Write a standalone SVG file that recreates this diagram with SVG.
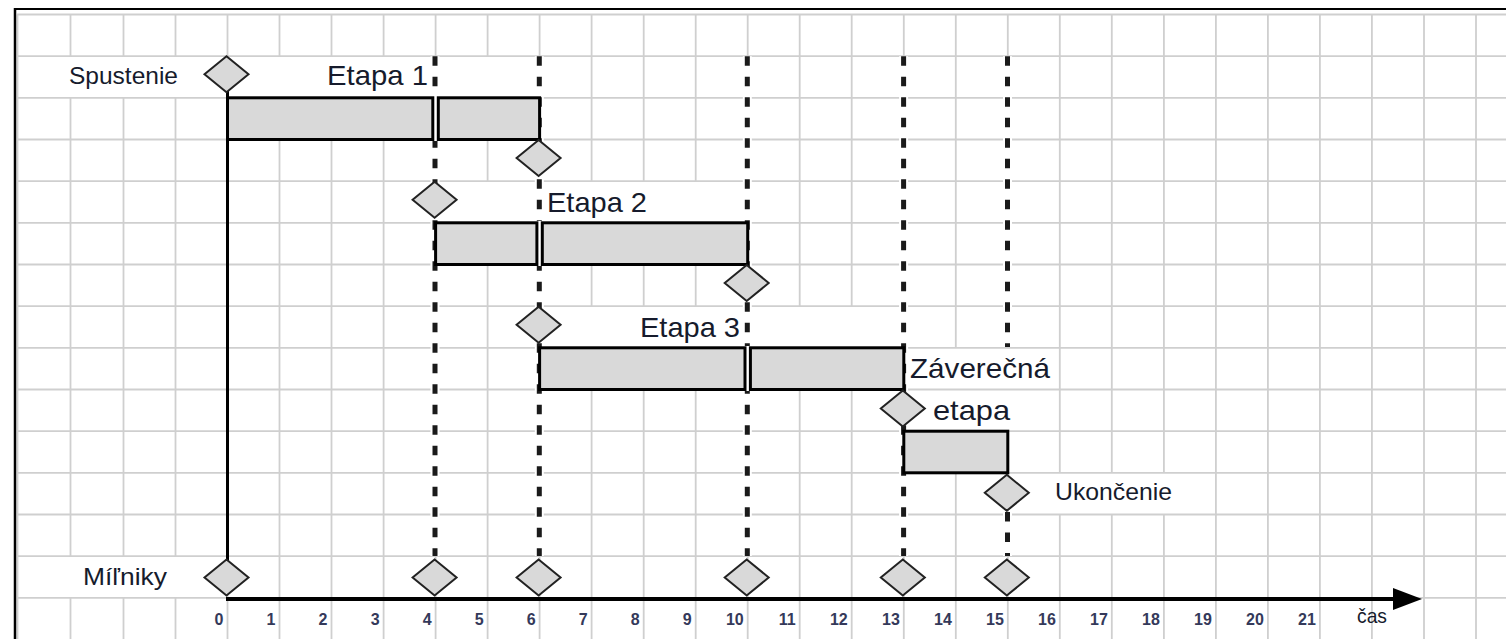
<svg xmlns="http://www.w3.org/2000/svg" xmlns:xlink="http://www.w3.org/1999/xlink" width="1506" height="639" viewBox="0 0 1506 639">
<style>
.grid line{stroke:#cfcfcf;stroke-width:1.8}
.bar{fill:#d9d9d9;stroke:#000;stroke-width:3}
.gap{fill:#fff}
.dia{fill:#d9d9d9;stroke:#222;stroke-width:2;stroke-linejoin:miter}
.under{stroke:#fff;stroke-width:9}
.dash{stroke:#1a1a1a;stroke-width:5;stroke-dasharray:9.5 11}
.lbl{font-family:"Liberation Sans",Arial,sans-serif;fill:#161b2c}
.big{font-size:28px}
.small{font-size:24.5px}
.num{font-family:"Liberation Sans",Arial,sans-serif;font-size:16px;font-weight:bold;fill:#34395a;text-anchor:end}
</style>
<defs>
<path id="diamond" class="dia" d="M0,-18 L22,0 L0,18 L-22,0 Z"/>
<marker id="arrow" viewBox="0 0 30 22" refX="1" refY="11" markerWidth="30" markerHeight="22" markerUnits="userSpaceOnUse" orient="auto">
<path d="M0,0 L29,11 L0,22 Z" fill="#000"/>
</marker>
</defs>
<rect x="0" y="0" width="1506" height="639" fill="#fff"/>
<g id="grid" class="grid">
<line x1="17" y1="14.5" x2="1506" y2="14.5"/>
<line x1="17" y1="56.2" x2="1506" y2="56.2"/>
<line x1="17" y1="97.8" x2="1506" y2="97.8"/>
<line x1="17" y1="139.5" x2="1506" y2="139.5"/>
<line x1="17" y1="181.2" x2="1506" y2="181.2"/>
<line x1="17" y1="222.8" x2="1506" y2="222.8"/>
<line x1="17" y1="264.5" x2="1506" y2="264.5"/>
<line x1="17" y1="306.2" x2="1506" y2="306.2"/>
<line x1="17" y1="347.8" x2="1506" y2="347.8"/>
<line x1="17" y1="389.5" x2="1506" y2="389.5"/>
<line x1="17" y1="431.2" x2="1506" y2="431.2"/>
<line x1="17" y1="472.8" x2="1506" y2="472.8"/>
<line x1="17" y1="514.5" x2="1506" y2="514.5"/>
<line x1="17" y1="556.2" x2="1506" y2="556.2"/>
<line x1="17" y1="597.8" x2="1506" y2="597.8"/>
<line x1="17.5" y1="14.5" x2="17.5" y2="639"/>
<line x1="70.5" y1="14.5" x2="70.5" y2="56.2"/><line x1="70.5" y1="97.8" x2="70.5" y2="556.2"/><line x1="70.5" y1="597.8" x2="70.5" y2="639"/>
<line x1="123.5" y1="14.5" x2="123.5" y2="56.2"/><line x1="123.5" y1="97.8" x2="123.5" y2="556.2"/><line x1="123.5" y1="597.8" x2="123.5" y2="639"/>
<line x1="175.5" y1="14.5" x2="175.5" y2="56.2"/><line x1="175.5" y1="97.8" x2="175.5" y2="556.2"/><line x1="175.5" y1="597.8" x2="175.5" y2="639"/>
<line x1="227.5" y1="14.5" x2="227.5" y2="639"/>
<line x1="279.5" y1="14.5" x2="279.5" y2="56.2"/><line x1="279.5" y1="97.8" x2="279.5" y2="639"/>
<line x1="331.5" y1="14.5" x2="331.5" y2="56.2"/><line x1="331.5" y1="97.8" x2="331.5" y2="639"/>
<line x1="383.6" y1="14.5" x2="383.6" y2="56.2"/><line x1="383.6" y1="97.8" x2="383.6" y2="639"/>
<line x1="435.6" y1="14.5" x2="435.6" y2="639"/>
<line x1="487.6" y1="14.5" x2="487.6" y2="56.2"/><line x1="487.6" y1="97.8" x2="487.6" y2="181.2"/><line x1="487.6" y1="222.8" x2="487.6" y2="639"/>
<line x1="539.6" y1="14.5" x2="539.6" y2="639"/>
<line x1="591.6" y1="14.5" x2="591.6" y2="181.2"/><line x1="591.6" y1="222.8" x2="591.6" y2="306.2"/><line x1="591.6" y1="347.8" x2="591.6" y2="639"/>
<line x1="643.7" y1="14.5" x2="643.7" y2="181.2"/><line x1="643.7" y1="222.8" x2="643.7" y2="306.2"/><line x1="643.7" y1="347.8" x2="643.7" y2="639"/>
<line x1="695.7" y1="14.5" x2="695.7" y2="181.2"/><line x1="695.7" y1="222.8" x2="695.7" y2="306.2"/><line x1="695.7" y1="347.8" x2="695.7" y2="639"/>
<line x1="747.7" y1="14.5" x2="747.7" y2="639"/>
<line x1="799.7" y1="14.5" x2="799.7" y2="306.2"/><line x1="799.7" y1="347.8" x2="799.7" y2="639"/>
<line x1="851.7" y1="14.5" x2="851.7" y2="306.2"/><line x1="851.7" y1="347.8" x2="851.7" y2="639"/>
<line x1="903.8" y1="14.5" x2="903.8" y2="639"/>
<line x1="955.8" y1="14.5" x2="955.8" y2="347.8"/><line x1="955.8" y1="431.2" x2="955.8" y2="639"/>
<line x1="1007.8" y1="14.5" x2="1007.8" y2="347.8"/><line x1="1007.8" y1="431.2" x2="1007.8" y2="639"/>
<line x1="1059.8" y1="14.5" x2="1059.8" y2="472.8"/><line x1="1059.8" y1="514.5" x2="1059.8" y2="639"/>
<line x1="1111.8" y1="14.5" x2="1111.8" y2="472.8"/><line x1="1111.8" y1="514.5" x2="1111.8" y2="639"/>
<line x1="1163.9" y1="14.5" x2="1163.9" y2="472.8"/><line x1="1163.9" y1="514.5" x2="1163.9" y2="639"/>
<line x1="1215.9" y1="14.5" x2="1215.9" y2="639"/>
<line x1="1267.9" y1="14.5" x2="1267.9" y2="639"/>
<line x1="1319.9" y1="14.5" x2="1319.9" y2="639"/>
<line x1="1371.9" y1="14.5" x2="1371.9" y2="639"/>
<line x1="1424" y1="14.5" x2="1424" y2="639"/>
<line x1="1476" y1="14.5" x2="1476" y2="639"/>
</g>
<g id="border">
<line x1="14" y1="9" x2="1506" y2="9" stroke="#000" stroke-width="2"/>
<line x1="15" y1="8" x2="15" y2="639" stroke="#000" stroke-width="2.5"/>
</g>
<g id="connectors">
<g id="milestone-lines">
<line class="under" x1="435" y1="56.2" x2="435" y2="556"/>
<line class="dash" x1="435" y1="56.2" x2="435" y2="556"/>
<line class="under" x1="539.3" y1="56.2" x2="539.3" y2="556"/>
<line class="dash" x1="539.3" y1="56.2" x2="539.3" y2="556"/>
<line class="under" x1="747.3" y1="56.2" x2="747.3" y2="556"/>
<line class="dash" x1="747.3" y1="56.2" x2="747.3" y2="556"/>
<line class="under" x1="903.6" y1="56.2" x2="903.6" y2="556"/>
<line class="dash" x1="903.6" y1="56.2" x2="903.6" y2="556"/>
<line class="under" x1="1007.5" y1="56.2" x2="1007.5" y2="347"/>
<line class="dash" x1="1007.5" y1="56.2" x2="1007.5" y2="347"/>
<line class="under" x1="1007.5" y1="512" x2="1007.5" y2="556"/>
<line class="dash" x1="1007.5" y1="512" x2="1007.5" y2="556"/>
</g>
<line id="start-line" x1="227.5" y1="90" x2="227.5" y2="561" stroke="#000" stroke-width="3"/>
<line id="time-axis" x1="226" y1="599" x2="1394" y2="599" stroke="#000" stroke-width="4" marker-end="url(#arrow)"/>
</g>
<g id="bar-etapa1">
<rect class="gap" x="430" y="96" width="11" height="45"/>
<rect class="bar" x="227.5" y="97.8" width="205.3" height="41.7"/>
<rect class="bar" x="438.3" y="97.8" width="101.3" height="41.7"/>
</g>
<g id="bar-etapa2">
<rect class="gap" x="534" y="221" width="11" height="45"/>
<rect class="bar" x="435.6" y="222.8" width="101.3" height="41.7"/>
<rect class="bar" x="542.3" y="222.8" width="205.4" height="41.7"/>
</g>
<g id="bar-etapa3">
<rect class="gap" x="742" y="346" width="11" height="45"/>
<rect class="bar" x="539.6" y="347.8" width="205.4" height="41.7"/>
<rect class="bar" x="750.4" y="347.8" width="153.4" height="41.7"/>
</g>
<g id="bar-zaverecna">
<rect class="bar" x="903.8" y="431.2" width="104" height="41.6"/>
</g>
<g id="diamonds">
<use href="#diamond" xlink:href="#diamond" x="226.5" y="74.2"/>
<use href="#diamond" xlink:href="#diamond" x="538.6" y="158"/>
<use href="#diamond" xlink:href="#diamond" x="434.6" y="199.7"/>
<use href="#diamond" xlink:href="#diamond" x="746.7" y="283"/>
<use href="#diamond" xlink:href="#diamond" x="538.6" y="324.7"/>
<use href="#diamond" xlink:href="#diamond" x="902.8" y="408.5"/>
<use href="#diamond" xlink:href="#diamond" x="1006.8" y="492.8"/>
<use href="#diamond" xlink:href="#diamond" x="226.5" y="577.5"/>
<use href="#diamond" xlink:href="#diamond" x="434.6" y="577.5"/>
<use href="#diamond" xlink:href="#diamond" x="538.6" y="577.5"/>
<use href="#diamond" xlink:href="#diamond" x="746.7" y="577.5"/>
<use href="#diamond" xlink:href="#diamond" x="902.8" y="577.5"/>
<use href="#diamond" xlink:href="#diamond" x="1006.8" y="577.5"/>
</g>
<g id="labels">
<text class="lbl small" x="69" y="84" textLength="109" lengthAdjust="spacingAndGlyphs">Spustenie</text>
<text class="lbl big" x="327" y="85" textLength="101" lengthAdjust="spacingAndGlyphs">Etapa 1</text>
<text class="lbl big" x="547" y="211.5" textLength="100" lengthAdjust="spacingAndGlyphs">Etapa 2</text>
<text class="lbl big" x="640" y="337" textLength="100" lengthAdjust="spacingAndGlyphs">Etapa 3</text>
<text class="lbl big" x="910" y="378" textLength="140" lengthAdjust="spacingAndGlyphs">Záverečná</text>
<text class="lbl big" x="933" y="420" textLength="77" lengthAdjust="spacingAndGlyphs">etapa</text>
<text class="lbl small" x="1055" y="500" textLength="117" lengthAdjust="spacingAndGlyphs">Ukončenie</text>
<text class="lbl small" x="83" y="585" textLength="84" lengthAdjust="spacingAndGlyphs">Míľniky</text>
<text class="lbl" x="1357" y="623" font-size="21" textLength="30" lengthAdjust="spacingAndGlyphs">čas</text>
</g>
<g id="axis-numbers">
<text class="num" x="223.5" y="625">0</text>
<text class="num" x="275.5" y="625">1</text>
<text class="num" x="327.5" y="625">2</text>
<text class="num" x="379.6" y="625">3</text>
<text class="num" x="431.6" y="625">4</text>
<text class="num" x="483.6" y="625">5</text>
<text class="num" x="535.6" y="625">6</text>
<text class="num" x="587.6" y="625">7</text>
<text class="num" x="639.7" y="625">8</text>
<text class="num" x="691.7" y="625">9</text>
<text class="num" x="743.7" y="625">10</text>
<text class="num" x="795.7" y="625">11</text>
<text class="num" x="847.7" y="625">12</text>
<text class="num" x="899.8" y="625">13</text>
<text class="num" x="951.8" y="625">14</text>
<text class="num" x="1003.8" y="625">15</text>
<text class="num" x="1055.8" y="625">16</text>
<text class="num" x="1107.8" y="625">17</text>
<text class="num" x="1159.9" y="625">18</text>
<text class="num" x="1211.9" y="625">19</text>
<text class="num" x="1263.9" y="625">20</text>
<text class="num" x="1315.9" y="625">21</text>
</g>
</svg>
